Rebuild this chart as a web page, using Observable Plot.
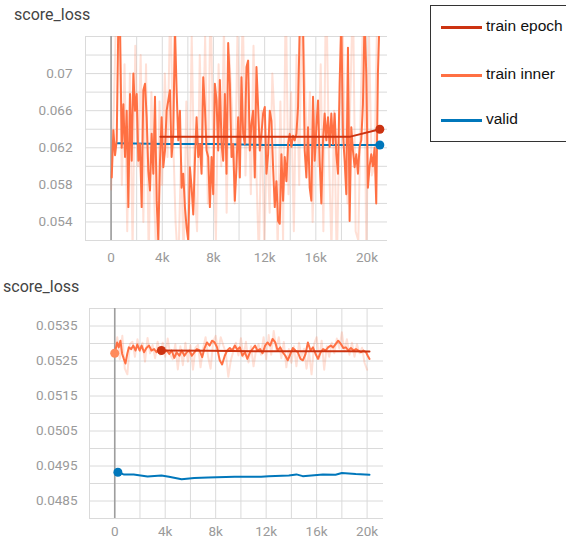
<!DOCTYPE html>
<html>
<head>
<meta charset="utf-8">
<script src="https://cdn.jsdelivr.net/npm/d3@7"></script>
<script src="https://cdn.jsdelivr.net/npm/@observablehq/plot@0.6"></script>
<style>
  html, body { margin: 0; padding: 0; background: #fff; }
  #root { position: relative; width: 566px; height: 540px; overflow: hidden; background: #fff; }
  .title { position: absolute; font-family: Roboto, sans-serif; font-size: 16px; color: #444; white-space: nowrap; }
  .panel { position: absolute; left: 0; }
  #legend { position: absolute; left: 430px; top: 5px; width: 150px; height: 137px; border: 1px solid #333; box-sizing: border-box; }
  .lg-line { position: absolute; left: 10px; width: 41px; height: 3px; }
  .lg-text { position: absolute; left: 55px; font-family: "Liberation Sans", Arial, sans-serif; font-size: 15.5px; color: #111; line-height: 20px; white-space: nowrap; }
</style>
</head>
<body>
<div id="root">
  <div class="title" id="t1" style="left:14px; top:5px;">score_loss</div>
  <div class="panel" id="p1" style="top:0px;"></div>
  <div class="title" id="t2" style="left:3px; top:277px;">score_loss</div>
  <div class="panel" id="p2" style="top:270px;"></div>
  <div id="legend"></div>
</div>
<script>
// ---------- data ----------
const seriesNames = ["train epoch", "train inner", "valid"];
const seriesColors = ["#cc3311", "#ff7043", "#0077bb"];

const xTickValues = [0, 4000, 8000, 12000, 16000, 20000];
const xGridValues = [-2000, 0, 2000, 4000, 6000, 8000, 10000, 12000, 14000, 16000, 18000, 20000];

const topYTicks = [0.054, 0.058, 0.062, 0.066, 0.07];
const topYGrid = [0.052, 0.054, 0.056, 0.058, 0.060, 0.062, 0.064, 0.066, 0.068, 0.070, 0.072, 0.074];
const bottomYTicks = [0.0485, 0.0495, 0.0505, 0.0515, 0.0525, 0.0535];
const bottomYGrid = [0.048, 0.0485, 0.049, 0.0495, 0.050, 0.0505, 0.051, 0.0515, 0.052, 0.0525, 0.053, 0.0535, 0.054];

// top panel: train inner (smoothed)
const topInner = [
[50,0.0588],[180,0.0639],[310,0.0612],[440,0.0628],[570,0.0760],[700,0.0750],[830,0.0620],[960,0.0667],[1090,0.0610],[1220,0.0660],
[1350,0.0556],[1480,0.0678],[1610,0.0606],[1740,0.0700],[1870,0.0660],[2000,0.0678],[2130,0.0606],[2260,0.0624],[2390,0.0556],[2520,0.0682],
[2650,0.0689],[2780,0.0653],[2910,0.0595],[3040,0.0574],[3170,0.0635],[3300,0.0592],[3430,0.0675],[3560,0.0563],[3690,0.0520],[3820,0.0606],
[3950,0.0653],[4080,0.0599],[4210,0.0617],[4340,0.0660],[4470,0.0671],[4600,0.0682],[4730,0.0610],[4860,0.0635],[4990,0.0750],[5120,0.0682],
[5250,0.0628],[5380,0.0660],[5510,0.0577],[5640,0.0592],[5770,0.0556],[5900,0.0534],[6030,0.0520],[6160,0.0599],[6290,0.0577],[6420,0.0548],
[6550,0.0606],[6680,0.0653],[6810,0.0610],[6940,0.0624],[7070,0.0592],[7200,0.0696],[7330,0.0664],[7460,0.0617],[7590,0.0610],[7720,0.0556],
[7850,0.0610],[7980,0.0570],[8110,0.0689],[8240,0.0671],[8370,0.0617],[8500,0.0693],[8630,0.0624],[8760,0.0606],[8890,0.0678],[9020,0.0592],
[9150,0.0733],[9280,0.0689],[9410,0.0610],[9540,0.0624],[9670,0.0563],[9800,0.0599],[9930,0.0653],[10060,0.0588],[10190,0.0696],[10320,0.0635],
[10450,0.0624],[10580,0.0707],[10710,0.0714],[10840,0.0617],[10970,0.0646],[11100,0.0660],[11230,0.0588],[11360,0.0707],[11490,0.0664],[11620,0.0617],
[11750,0.0635],[11880,0.0657],[12010,0.0664],[12140,0.0592],[12270,0.0613],[12400,0.0660],[12530,0.0649],[12660,0.0599],[12790,0.0556],[12920,0.0584],
[13050,0.0541],[13180,0.0538],[13310,0.0613],[13440,0.0563],[13570,0.0610],[13700,0.0584],[13830,0.0624],[13960,0.0635],[14090,0.0621],[14220,0.0633],
[14350,0.0628],[14480,0.0635],[14610,0.0664],[14740,0.0750],[14870,0.0760],[15000,0.0750],[15130,0.0617],[15260,0.0588],[15390,0.0642],[15520,0.0577],
[15650,0.0563],[15780,0.0675],[15910,0.0606],[16040,0.0642],[16170,0.0671],[16300,0.0606],[16430,0.0560],[16560,0.0628],[16690,0.0657],[16820,0.0628],
[16950,0.0653],[17080,0.0621],[17210,0.0657],[17340,0.0624],[17470,0.0657],[17600,0.0613],[17730,0.0592],[17860,0.0689],[17990,0.0760],[18120,0.0635],
[18250,0.0606],[18380,0.0570],[18510,0.0728],[18640,0.0541],[18770,0.0642],[18900,0.0617],[19030,0.0599],[19160,0.0613],[19290,0.0592],[19420,0.0621],
[19550,0.0628],[19680,0.0667],[19810,0.0760],[19940,0.0700],[20070,0.0577],[20200,0.0600],[20330,0.0613],[20460,0.0600],[20590,0.0620],[20720,0.0560],
[20850,0.0700],[20980,0.0760]
];

// top panel: train inner (raw, faint)
const topInnerRaw = [
[0,0.0575],[210,0.0660],[420,0.0780],[630,0.0790],[840,0.0580],[1050,0.0710],[1260,0.0530],[1470,0.0700],[1680,0.0510],[1890,0.0730],
[2100,0.0600],[2310,0.0720],[2520,0.0540],[2730,0.0710],[2940,0.0500],[3150,0.0680],[3360,0.0570],[3570,0.0480],[3780,0.0670],[3990,0.0580],
[4200,0.0700],[4410,0.0610],[4620,0.0780],[4830,0.0640],[5040,0.0540],[5250,0.0490],[5460,0.0610],[5670,0.0500],[5880,0.0670],[6090,0.0550],
[6300,0.0740],[6510,0.0580],[6720,0.0530],[6930,0.0720],[7140,0.0600],[7350,0.0740],[7560,0.0560],[7770,0.0790],[7980,0.0620],[8190,0.0520],
[8400,0.0710],[8610,0.0600],[8820,0.0750],[9030,0.0550],[9240,0.0720],[9450,0.0660],[9660,0.0560],[9870,0.0740],[10080,0.0620],[10290,0.0770],
[10500,0.0590],[10710,0.0690],[10920,0.0570],[11130,0.0730],[11340,0.0600],[11550,0.0500],[11760,0.0660],[11970,0.0510],[12180,0.0630],[12390,0.0550],
[12600,0.0700],[12810,0.0640],[13020,0.0510],[13230,0.0670],[13440,0.0520],[13650,0.0790],[13860,0.0570],[14070,0.0680],[14280,0.0530],[14490,0.0720],
[14700,0.0580],[14910,0.0790],[15120,0.0700],[15330,0.0610],[15540,0.0680],[15750,0.0540],[15960,0.0660],[16170,0.0600],[16380,0.0710],[16590,0.0530],
[16800,0.0810],[17010,0.0620],[17220,0.0510],[17430,0.0660],[17640,0.0490],[17850,0.0650],[18060,0.0780],[18270,0.0630],[18480,0.0560],[18690,0.0670],
[18900,0.0790],[19110,0.0530],[19320,0.0520],[19530,0.0680],[19740,0.0780],[19950,0.0500],[20160,0.0740],[20370,0.0590],[20580,0.0600],[20790,0.0760],
[21000,0.0780]
];

const topEpoch = [[3850,0.0632],[7550,0.0632],[11250,0.0632],[14950,0.0632],[18700,0.0632],[21000,0.0640]];
const topValid = [[500,0.0625],[4200,0.0624],[8000,0.0624],[12000,0.0623],[16000,0.0623],[21000,0.0623]];

// bottom panel: train inner (smoothed)
const bottomInner = [
[0,0.05272],[190,0.05303],[320,0.05289],[450,0.05308],[590,0.0527],[720,0.05256],[850,0.05243],[990,0.0527],[1120,0.05289],[1310,0.05284],
[1470,0.05294],[1650,0.0528],[1790,0.05297],[1970,0.0528],[2130,0.05294],[2320,0.05275],[2510,0.05287],[2720,0.05294],[2910,0.0528],[3120,0.05284],
[3310,0.05275],[3520,0.05287],[3710,0.05282],[3920,0.05275],[4130,0.0528],[4320,0.0527],[4510,0.0528],[4720,0.05259],[4910,0.05275],[5120,0.05265],
[5310,0.0528],[5520,0.05265],[5710,0.05275],[5920,0.0528],[6110,0.05265],[6320,0.05275],[6510,0.05284],[6720,0.0528],[6930,0.05261],[7120,0.05287],
[7310,0.05303],[7520,0.05294],[7710,0.05308],[7920,0.05303],[8110,0.05289],[8320,0.05252],[8510,0.0524],[8720,0.05265],[8910,0.0528],[9120,0.05287],
[9310,0.0528],[9520,0.05294],[9710,0.05282],[9920,0.05289],[10110,0.05265],[10320,0.05275],[10510,0.05256],[10720,0.05275],[10910,0.05284],[11120,0.05294],
[11310,0.0528],[11520,0.05284],[11710,0.05272],[11920,0.05294],[12110,0.05303],[12320,0.05294],[12510,0.05313],[12720,0.05303],[12910,0.0528],[13120,0.05289],
[13310,0.05275],[13520,0.05265],[13710,0.05252],[13920,0.0527],[14110,0.05287],[14320,0.0528],[14510,0.05275],[14720,0.05256],[14910,0.05252],[15120,0.0527],
[15310,0.05303],[15520,0.0528],[15710,0.05289],[15920,0.0527],[16110,0.05256],[16320,0.05275],[16510,0.05284],[16720,0.0528],[16910,0.05289],[17120,0.05294],
[17310,0.05289],[17520,0.05299],[17710,0.05308],[17920,0.05299],[18110,0.05287],[18320,0.05289],[18510,0.0528],[18720,0.05287],[18910,0.0528],[19120,0.05284],
[19310,0.0528],[19520,0.05275],[19710,0.0528],[19920,0.05275],[20050,0.05265],[20190,0.05256]
];

// bottom panel: train inner (raw, faint)
const bottomInnerRaw = [
[0,0.05265],[200,0.05318],[400,0.05255],[600,0.05322],[800,0.05228],[1000,0.05212],[1200,0.05298],[1400,0.05305],[1600,0.05262],[1800,0.05312],
[2000,0.05278],[2200,0.05302],[2400,0.05248],[2600,0.05316],[2800,0.05272],[3000,0.05296],[3200,0.05258],[3400,0.05305],[3600,0.05268],[3800,0.05302],
[4000,0.05262],[4200,0.05314],[4400,0.05268],[4600,0.05255],[4800,0.05298],[5000,0.05226],[5200,0.05292],[5400,0.05238],[5600,0.05302],[5800,0.05248],
[6000,0.05295],[6200,0.05225],[6400,0.05288],[6600,0.05296],[6800,0.05232],[7000,0.05285],[7200,0.05318],[7400,0.05262],[7600,0.05228],[7800,0.05305],
[8000,0.05322],[8200,0.05276],[8400,0.05318],[8600,0.05295],[8800,0.05274],[9000,0.05205],[9200,0.05252],[9400,0.05278],[9600,0.05302],[9800,0.05266],
[10000,0.05315],[10200,0.05262],[10400,0.05305],[10600,0.05246],[10800,0.05292],[11000,0.05235],[11200,0.05282],[11400,0.05298],[11600,0.05268],[11800,0.05318],
[12000,0.05255],[12200,0.05324],[12400,0.05268],[12600,0.05336],[12800,0.05282],[13000,0.05318],[13200,0.05258],[13400,0.05304],[13600,0.05232],[13800,0.05284],
[14000,0.05245],[14200,0.05292],[14400,0.05235],[14600,0.05302],[14800,0.05262],[15000,0.05285],[15200,0.05228],[15400,0.05275],[15600,0.05212],[15800,0.05298],
[16000,0.05318],[16200,0.05256],[16400,0.05308],[16600,0.05225],[16800,0.05292],[17000,0.05262],[17200,0.05302],[17400,0.05272],[17600,0.05314],[17800,0.05286],
[18000,0.05332],[18200,0.05278],[18400,0.05312],[18600,0.05268],[18800,0.05302],[19000,0.05262],[19200,0.05298],[19400,0.05272],[19600,0.05288],[19800,0.05245],
[20000,0.05225]
];

const bottomEpoch = [[3700,0.0528],[7400,0.05279],[11100,0.05278],[14800,0.05278],[18500,0.05278],[20190,0.05277]];
const bottomValid = [
[250,0.04932],[700,0.04926],[1500,0.04926],[2600,0.0492],[3700,0.04923],[4300,0.04919],[5300,0.04912],[6300,0.04916],[7400,0.04917],[9500,0.04919],
[11600,0.04919],[12200,0.04921],[13800,0.04923],[14400,0.04926],[14900,0.04921],[16500,0.04926],[17500,0.04925],[18000,0.0493],[19100,0.04927],[20190,0.04925]
];

// ---------- drawing ----------
const X = d => d[0], Y = d => d[1];
const fmtX = d => d === 0 ? "0" : (d / 1000) + "k";
const fmtY = d => String(d);

function panel(o) {
  return Plot.plot({
    width: 400, height: o.height,
    marginLeft: o.ml, marginRight: o.mr, marginTop: o.mt, marginBottom: o.mb,
    style: { fontFamily: "Roboto, sans-serif", fontSize: "13.5px", color: "#999", background: "transparent", overflow: "visible" },
    x: { domain: o.xDomain, axis: null },
    y: { domain: o.yDomain, axis: null },
    marks: [
      Plot.ruleX(xGridValues, { stroke: "#dadada", strokeWidth: 1 }),
      Plot.ruleY(o.yGrid, { stroke: "#dadada", strokeWidth: 1 }),
      Plot.axisX(xTickValues, { tickSize: 0, tickPadding: o.xPad, tickFormat: fmtX, fill: "#9a9a9a" }),
      Plot.axisY(o.yTicks, { tickSize: 0, tickPadding: o.yPad, tickFormat: fmtY, fill: "#9a9a9a" }),
      Plot.ruleX([0], { stroke: "#9e9e9e", strokeWidth: 1.6 }),
      Plot.line(o.raw, { x: X, y: Y, stroke: seriesColors[1], strokeOpacity: 0.22, strokeWidth: 2, clip: true }),
      Plot.line(o.valid, { x: X, y: Y, stroke: seriesColors[2], strokeWidth: 2, clip: true }),
      Plot.line(o.inner, { x: X, y: Y, stroke: seriesColors[1], strokeWidth: 2, clip: true }),
      Plot.line(o.epoch, { x: X, y: Y, stroke: seriesColors[0], strokeWidth: 2, clip: true }),
      ...o.dots.map(([pt, c]) => Plot.dot([pt], { x: X, y: Y, r: 4.5, fill: c, stroke: "none" }))
    ]
  });
}

document.getElementById("p1").appendChild(panel({
  height: 262, ml: 85, mr: 13, mt: 36, mb: 22, xPad: 12, yPad: 13,
  xDomain: [-2000, 21600], yDomain: [0.052, 0.074],
  yGrid: topYGrid, yTicks: topYTicks,
  inner: topInner, raw: topInnerRaw, epoch: topEpoch, valid: topValid,
  dots: [[topEpoch[topEpoch.length - 1], seriesColors[0]], [topValid[topValid.length - 1], seriesColors[2]]]
}));

document.getElementById("p2").appendChild(panel({
  height: 270, ml: 89, mr: 17, mt: 38, mb: 22, xPad: 8, yPad: 12,
  xDomain: [-2000, 21300], yDomain: [0.048, 0.054],
  yGrid: bottomYGrid, yTicks: bottomYTicks,
  inner: bottomInner, raw: bottomInnerRaw, epoch: bottomEpoch, valid: bottomValid,
  dots: [[bottomInner[0], "#ff8a5c"], [bottomEpoch[0], seriesColors[0]], [bottomValid[0], seriesColors[2]]]
}));

// legend
const legend = document.getElementById("legend");
const legendY = [21, 69, 114];
seriesNames.forEach((name, i) => {
  const ln = document.createElement("div");
  ln.className = "lg-line";
  ln.style.top = (legendY[i] - 1.5) + "px";
  ln.style.background = seriesColors[i];
  legend.appendChild(ln);
  const tx = document.createElement("div");
  tx.className = "lg-text";
  tx.style.top = (legendY[i] - 11) + "px";
  tx.textContent = name;
  legend.appendChild(tx);
});
</script>
</body>
</html>
